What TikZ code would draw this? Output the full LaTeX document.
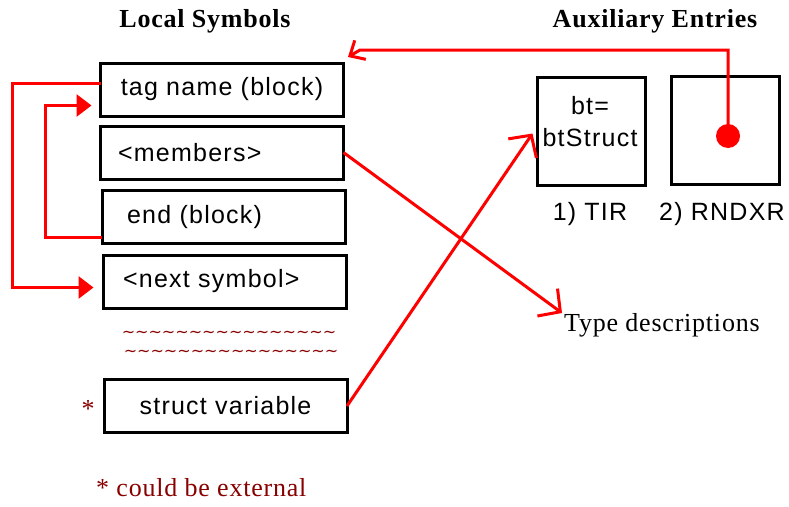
\documentclass[tikz,border=0pt]{standalone}
\usepackage{fontspec}
\setmainfont{Liberation Serif}[LetterSpace=3]
\newfontfamily\symfont{Liberation Sans}[LetterSpace=5]
\newfontfamily\squigfont{DejaVu Sans}
\usetikzlibrary{arrows.meta, positioning}
\definecolor{notered}{RGB}{136,0,0}
\newcommand\squigrow{\foreach \i in {1,...,16}{\textasciitilde}}

\begin{document}
\begin{tikzpicture}[x=1pt, y=-1pt,
  sym/.style={draw, line width=3pt, minimum width=243pt, minimum height=53pt,
    outer sep=0pt, font=\symfont\fontsize{25}{28}\selectfont},
  lsym/.style={sym, text width=#1, align=left},
  symtext/.style={font=\symfont\fontsize{25}{32}\selectfont, align=center, inner sep=0pt},
  aux/.style={draw, line width=3pt, minimum size=108pt, outer sep=0pt},
  hdr/.style={font=\bfseries\fontsize{26}{30}\selectfont},
  txt/.style={font=\fontsize{26}{30}\selectfont, inner sep=0pt},
  note/.style={txt, text=notered},
  squig/.style={note, font=\squigfont\fontsize{16}{19}\selectfont},
  link/.style={red, line width=3pt},
  barb/.style={link, -{Straight Barb[length=16pt, width=34pt]}},
  tri/.style={link, -{Triangle[length=15pt, width=22pt]}}
]
\useasboundingbox (0,0) rectangle (789,506);

% headings
\node[hdr] (lochd) at (205,21) {Local Symbols};
\node[hdr] (auxhd) at (655,21) {Auxiliary Entries};

% local symbols
\node[sym] (tag) at (222,89.5) {tag name (block)};
\node[lsym=208pt] (members) at (222,152.5) {<members>};
\node[lsym=193pt] (endblk) at (223.5,217) {end (block)};
\node[lsym=204pt] (nextsym) at (225,281.5) {<next symbol>};
\node[squig] (tilde1) at (229,334) {\squigrow};
\node[squig] (tilde2) at (231,353) {\squigrow};
\node[sym] (struct) at (225.5,406) {struct variable};
\node[note] (star) at (88,409) {*};
\node[note, anchor=west] (external) at (96,488) {* could be external};

% auxiliary entries
\node[aux] (tir) at (591.5,131.5) {};
\node[symtext] (tirtxt) at (590,122) {bt=\\btStruct};
\node[aux] (rndxr) at (725,130) {};
\node[symtext] (tirlbl) at (590,214) {1) TIR};
\node[symtext] (rndlbl) at (722,214) {2) RNDXR};
\coordinate (dot) at (728,136);
\fill[red] (dot) circle[radius=12pt];
\coordinate (bend) at (360,50);

\node[txt, anchor=west] (typedesc) at (564,325) {Type descriptions};

% links
\draw[barb] (members.east) -- ([shift={(-2,-12)}]typedesc.west);
\draw[barb] (struct.east) -- ([shift={(-5,2)}]tir.west);
\draw[link, -{Straight Barb[length=12pt, width=22pt]}] (dot) |- (bend)
  -- ([shift={(4.5,-6)}]tag.north east);
\draw[tri, shorten >=10pt] ([yshift=6pt]tag.west) -- ++(-88,0)
  |- ([yshift=-6pt]nextsym.west);
\draw[tri, shorten >=9pt] ([yshift=-20pt]endblk.west) -- ++(-57,0)
  |- ([yshift=-16pt]tag.west);
\end{tikzpicture}
\end{document}
